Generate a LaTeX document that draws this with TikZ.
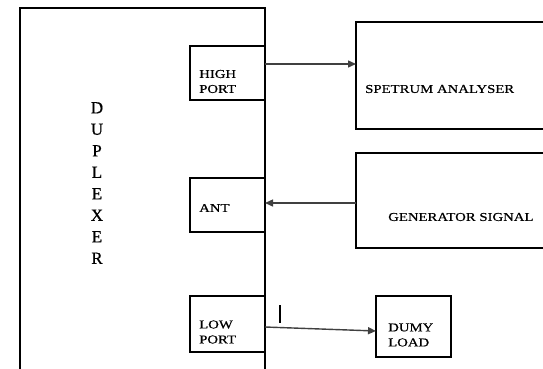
\documentclass[tikz,border=0pt]{standalone}
\usepackage{fontspec}
\setmainfont{Liberation Serif}
\newfontfamily\lblfont{Liberation Serif}[FakeStretch=1.23,FakeBold=0.6]
\newfontfamily\dupfont{Liberation Serif}[FakeBold=0.6]
\usetikzlibrary{arrows.meta,calc}
\begin{document}
\begin{tikzpicture}[x=1pt,y=-1pt,
  box/.style={draw=black,line width=1.1pt,inner sep=0pt,outer sep=0pt,anchor=north west},
  lbl/.style={font=\lblfont\fontsize{12}{15}\selectfont,inner sep=0pt,anchor=west,align=left,text=black},
  arr/.style={draw=black!75,line width=1.4pt,-{Triangle[length=8pt,width=7pt]}}]
\clip (0,0) rectangle (543,369);
\fill[white] (0,0) rectangle (543,369);
% duplexer
\node[box,minimum width=245pt,minimum height=380pt] (dup) at (20,8) {};
\node[font=\dupfont\fontsize{17}{21.5}\selectfont,align=center,inner sep=0pt,text=black] (duptxt) at (97,183) {D\\U\\P\\L\\E\\X\\E\\R};
% ports
\node[box,fill=white,minimum width=75pt,minimum height=54pt] (hp) at (190,46) {};
\node[lbl] (hptxt) at (199,81.5) {HIGH\\PORT};
\node[box,fill=white,minimum width=75pt,minimum height=54pt] (ant) at (190,178) {};
\node[lbl] (anttxt) at (199,208) {ANT};
\node[box,fill=white,minimum width=75pt,minimum height=56pt] (lp) at (190,296) {};
\node[lbl] (lptxt) at (199,332) {LOW\\PORT};
% right side
\node[box,minimum width=220pt,minimum height=107pt] (sa) at (356,22) {};
\node[lbl] (satxt) at (365,89) {SPETRUM ANALYSER};
\node[box,minimum width=220pt,minimum height=95pt] (gs) at (356,153) {};
\node[lbl] (gstxt) at (388,217) {GENERATOR SIGNAL};
\node[box,minimum width=75pt,minimum height=61pt] (dl) at (376,296) {};
\node[lbl] (dltxt) at (388,335) {DUMY\\LOAD};
% connectors
\coordinate (h1) at ([yshift=9pt]hp.east);
\draw[arr] (h1) -- (h1 -| sa.west);
\coordinate (a1) at ([yshift=2pt]ant.east);
\draw[arr] (a1 -| gs.west) -- (a1);
\draw[arr] ([yshift=-3pt]lp.east) -- ([yshift=-4.5pt]dl.west);
% small tick
\coordinate (t1) at (280,305);
\coordinate (t2) at (280,323);
\draw[line width=1.1pt,black] (t1) -- (t2);
\end{tikzpicture}
\end{document}
